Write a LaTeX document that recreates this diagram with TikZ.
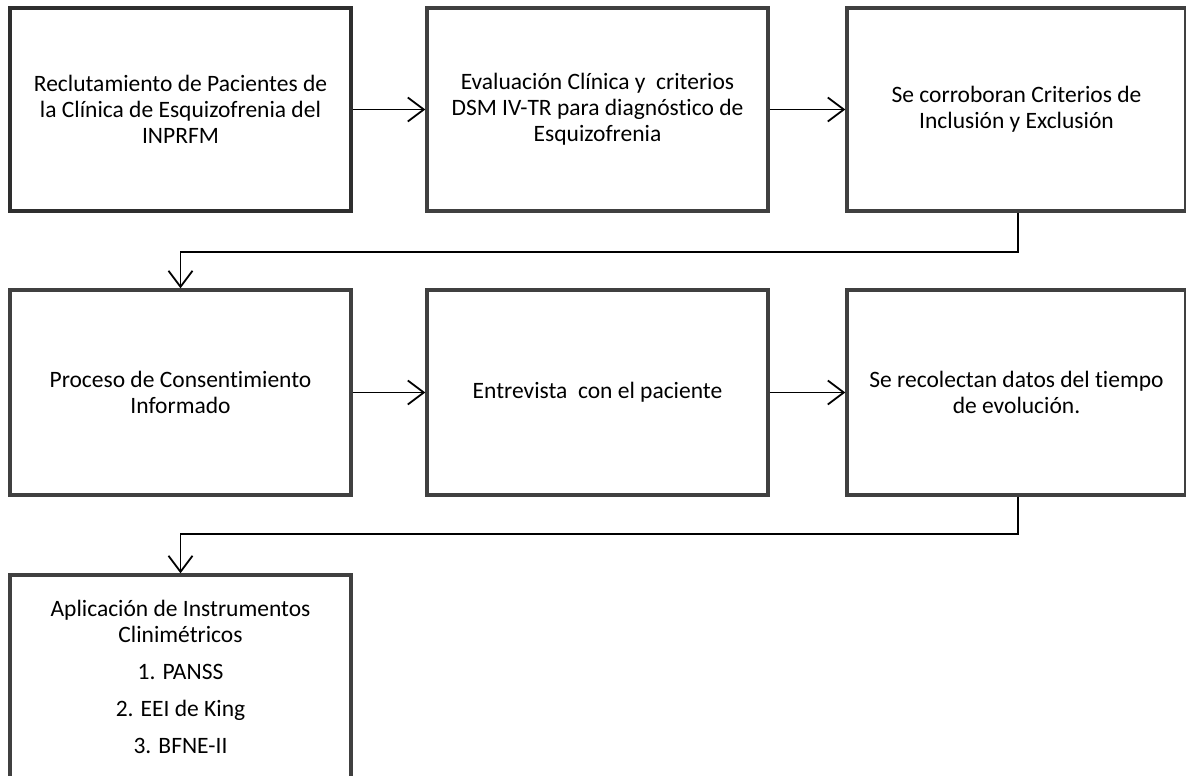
\documentclass[tikz,border=0pt]{standalone}
\usepackage{fontspec}
\setmainfont{Carlito}[Ligatures=NoCommon]
\usetikzlibrary{arrows.meta}
\begin{document}
\begin{tikzpicture}[x=1pt,y=-1pt,
  box/.style={draw=boxgray,line width=3.4pt,fill=white,align=center,inner sep=0pt,
    font=\fontsize{23.5}{26}\selectfont},
  firstbox/.style={box,draw=boxdark,line width=4.2pt},
  conn/.style={draw=black,line width=1.8pt,-{Straight Barb[length=16pt,width=24pt,line width=1.8pt]}},
  conn2/.style={draw=black,line width=1.8pt,-{Straight Barb[length=16pt,width=24pt,line width=1.8pt]}}
]
\definecolor{boxgray}{HTML}{404040}
\definecolor{boxdark}{HTML}{2E2E2E}
\useasboundingbox (0,0) rectangle (1186,776);
\fill[white] (0,0) rectangle (1186,776);
% row 1
\node[firstbox,minimum width=341pt,minimum height=203pt] (r1a) at (180.5,109.5)
  {Reclutamiento de Pacientes de\\la Clínica de Esquizofrenia del\\INPRFM};
\node[box,minimum width=341pt,minimum height=203pt] (r1b) at (597.5,109.5)
  {Evaluación Clínica y\ \ criterios\\DSM IV-TR para diagnóstico de\\Esquizofrenia};
\node[box,minimum width=339pt,minimum height=203pt] (r1c) at (1016.5,109.5)
  {Se corroboran Criterios de\\Inclusión y Exclusión};
% row 2
\node[box,minimum width=341pt,minimum height=205pt] (r2a) at (180.5,392.5)
  {Proceso de Consentimiento\\Informado};
\node[box,minimum width=341pt,minimum height=205pt] (r2b) at (597.5,392.5)
  {Entrevista\ \ con el paciente};
\node[box,minimum width=339pt,minimum height=205pt] (r2c) at (1016.5,392.5)
  {Se recolectan datos del tiempo\\de evolución.};
% row 3
\node[box,minimum width=341pt,minimum height=203pt] (r3a) at (180.5,676.5)
  {Aplicación de Instrumentos\\Clinimétricos\\[11pt]1. PANSS\\[11pt]2. EEI de King\\[11pt]3. BFNE-II};
% connectors
\coordinate (k1) at (1018,252);
\coordinate (k2) at (1018,534);
\draw[conn] (r1a.east) -- (r1b.west);
\draw[conn] (r1b.east) -- (r1c.west);
\draw[conn] (r2a.east) -- (r2b.west);
\draw[conn] (r2b.east) -- (r2c.west);
\draw[conn2] (r1c.south -| k1) -- (k1) -| (r2a.north);
\draw[conn2] (r2c.south -| k2) -- (k2) -| (r3a.north);
\end{tikzpicture}
\end{document}
